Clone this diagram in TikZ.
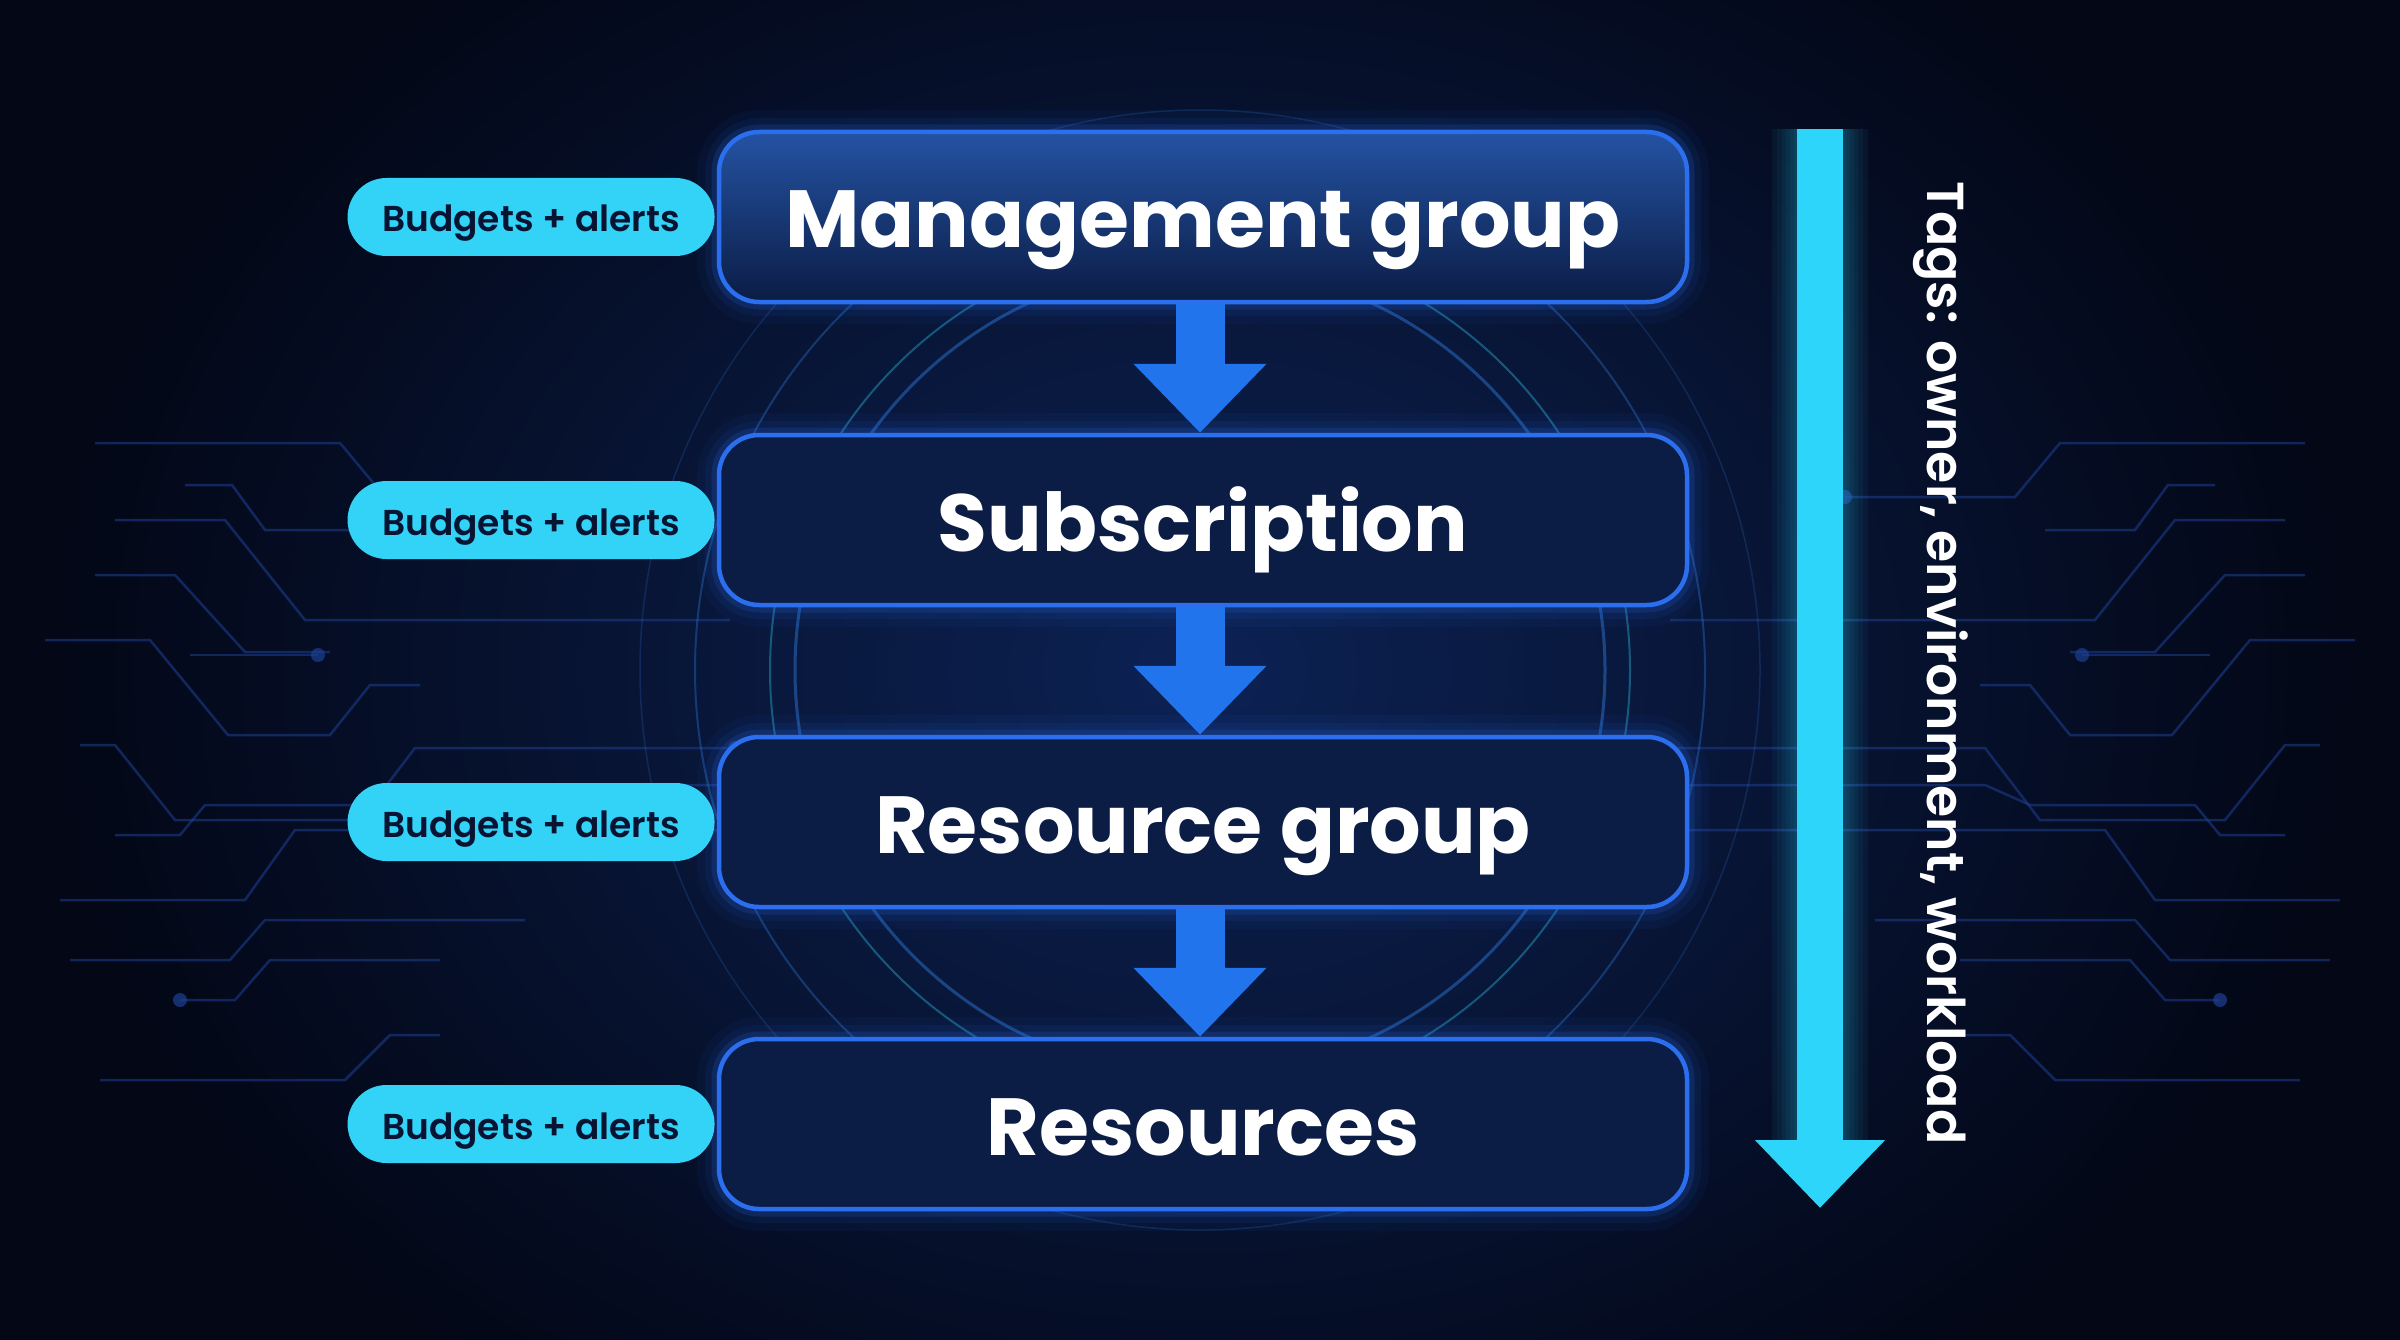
\documentclass[tikz,border=0pt]{standalone}
\usepackage{fontspec}
\setmainfont{Poppins}
\newfontfamily\semifont{Poppins SemiBold}
\usetikzlibrary{arrows.meta,positioning}

\definecolor{bgdark}{HTML}{030716}
\definecolor{bgglow}{HTML}{0C2254}
\definecolor{boxfill}{HTML}{0B1C45}
\definecolor{boxtop}{HTML}{2453A3}
\definecolor{boxline}{HTML}{2B6FEF}
\definecolor{flowblue}{HTML}{2174EC}
\definecolor{pillcyan}{HTML}{33D3F8}
\definecolor{pilltext}{HTML}{081432}
\definecolor{tagcyan}{HTML}{2ED5FB}
\definecolor{wirecol}{HTML}{1D3F93}
\definecolor{ringcol}{HTML}{2F7FE0}

\tikzset{
  level/.style={draw=boxline, line width=4.5pt, fill=boxfill,
    rounded corners=40pt, minimum width=968pt, minimum height=170pt,
    inner sep=0pt, text height=62pt, text depth=0pt, text=white,
    font=\fontsize{81}{86}\selectfont\bfseries,
    preaction={draw=boxline, line width=44pt, opacity=.05},
    preaction={draw=boxline, line width=28pt, opacity=.08},
    preaction={draw=boxline, line width=15pt, opacity=.16}},
  pill/.style={fill=pillcyan, rounded corners=39pt, minimum width=367pt,
    minimum height=78pt, inner sep=0pt, text height=30pt, text depth=0pt,
    text=pilltext, font=\fontsize{36}{40}\semifont},
  flow/.style={draw=flowblue, line width=49pt,
    -{Triangle[length=69pt,width=129pt]}},
  wire/.style={draw=wirecol, line width=2.5pt, opacity=.55},
  tagarrow/.style={draw=tagcyan, line width=46pt,
    -{Triangle[length=68pt,width=126pt]}}
}

\begin{document}
\begin{tikzpicture}[x=1pt,y=-1pt]
\useasboundingbox (0,0) rectangle (2400,1340);

% background
\fill[bgdark] (0,0) rectangle (2400,1340);
\shade[inner color=bgglow, outer color=bgdark] (1200,670) ellipse (1150pt and 900pt);

% circuit traces
\foreach \s in {1,-1}{
  \begin{scope}[xshift=1200pt, xscale=\s]
    \draw[wire] (-1105,443) -- (-860,443) -- (-815,497) -- (-645,497);
    \fill[wirecol, opacity=.7] (-645,497) circle (7pt);
    \draw[wire] (-1015,485) -- (-968,485) -- (-935,530) -- (-845,530);
    \draw[wire] (-1085,520) -- (-975,520) -- (-895,620) -- (-470,620);
    \draw[wire] (-1105,575) -- (-1025,575) -- (-955,652) -- (-870,652);
    \draw[wire] (-1010,655) -- (-882,655);
    \fill[wirecol, opacity=.7] (-882,655) circle (7pt);
    \draw[wire] (-1155,640) -- (-1050,640) -- (-972,735) -- (-870,735) -- (-830,685) -- (-780,685);
    \draw[wire] (-1120,745) -- (-1085,745) -- (-1025,820) -- (-840,820) -- (-785,748) -- (-465,748);
    \fill[wirecol, opacity=.7] (-465,748) circle (7pt);
    \draw[wire] (-1085,835) -- (-1020,835) -- (-995,805) -- (-830,805) -- (-785,785) -- (-470,785);
    \fill[wirecol, opacity=.7] (-470,785) circle (7pt);
    \draw[wire] (-1140,900) -- (-955,900) -- (-905,830) -- (-470,830);
    \draw[wire] (-1130,960) -- (-970,960) -- (-935,920) -- (-675,920);
    \fill[wirecol, opacity=.7] (-1020,1000) circle (7pt);
    \draw[wire] (-1020,1000) -- (-965,1000) -- (-930,960) -- (-760,960);
    \draw[wire] (-1100,1080) -- (-855,1080) -- (-810,1035) -- (-760,1035);
  \end{scope}
}

% rings
\draw[ringcol, line width=3pt, opacity=.45] (1200,670) circle (405pt);
\draw[tagcyan, line width=2pt, opacity=.35] (1200,670) circle (430pt);
\draw[ringcol, line width=2pt, opacity=.35] (1200,670) circle (505pt);
\draw[ringcol, line width=1.5pt, opacity=.2] (1200,670) circle (560pt);

% hierarchy
\node[level, top color=boxtop, bottom color=boxfill] (mg) at (1203,217) {Management group};
\node[level] (sub) at (1203,520) {Subscription};
\node[level] (rg) at (1203,822) {Resource group};
\node[level] (res) at (1203,1124) {Resources};

\node[pill, left=2pt of mg] (bmg) {Budgets + alerts};
\node[pill, left=2pt of sub] (bsub) {Budgets + alerts};
\node[pill, left=2pt of rg] (brg) {Budgets + alerts};
\node[pill, left=2pt of res] (bres) {Budgets + alerts};

\draw[flow] ([xshift=-3pt]mg.south) -- ([xshift=-3pt]sub.north);
\draw[flow] ([xshift=-3pt]sub.south) -- ([xshift=-3pt]rg.north);
\draw[flow] ([xshift=-3pt]rg.south) -- ([xshift=-3pt]res.north);

% tags
\coordinate (tagtop) at (1820,129);
\coordinate (tagbot) at (1820,1208);
\foreach \w in {96,86,76,68,60,53}
  \draw[tagcyan, line width=\w pt, opacity=.05] (tagtop) -- (1820,1140);
\draw[tagarrow] (tagtop) -- (tagbot);
\node[rotate=-90, text=white, font=\fontsize{52}{56}\semifont] (tags) at (1941,663) {Tags: owner, environment, workload};

\end{tikzpicture}
\end{document}
